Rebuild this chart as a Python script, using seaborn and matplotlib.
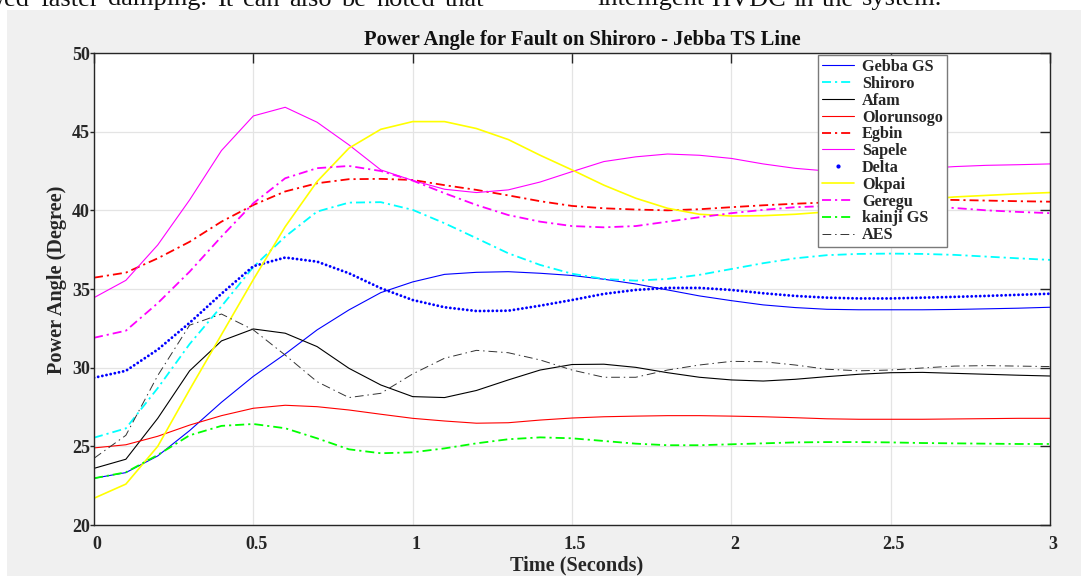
import numpy as np
import matplotlib
matplotlib.use("Agg")
import matplotlib.pyplot as plt
import matplotlib.transforms as mtransforms
from matplotlib.lines import Line2D
from matplotlib.patches import Rectangle
from matplotlib.ticker import FixedLocator
import seaborn as sns

# ---- data: rotor angle (degrees) of each station after the fault ----
time_s = np.round(np.arange(0, 3.01, 0.1), 1)

gebba = [22.97, 23.33, 24.39, 26.0, 27.8, 29.45, 30.87, 32.4, 33.67, 34.77, 35.45,
         35.93, 36.06, 36.1, 36.0, 35.86, 35.62, 35.32, 34.94, 34.56, 34.26,
         33.99, 33.82, 33.71, 33.68, 33.68, 33.68, 33.7, 33.74, 33.78, 33.84]
shiroro = [25.55, 26.14, 28.7, 31.5, 33.9, 36.4, 38.33, 39.92, 40.49, 40.52, 40.03,
           39.18, 38.23, 37.27, 36.53, 35.97, 35.64, 35.53, 35.64, 35.9, 36.27,
           36.64, 36.95, 37.15, 37.23, 37.25, 37.23, 37.17, 37.06, 36.95, 36.85]
afam = [23.6, 24.18, 26.78, 29.8, 31.7, 32.46, 32.19, 31.34, 29.96, 28.9, 28.16,
        28.1, 28.55, 29.22, 29.85, 30.2, 30.22, 30.02, 29.68, 29.39, 29.22,
        29.15, 29.26, 29.43, 29.58, 29.68, 29.7, 29.64, 29.58, 29.52, 29.47]
olorunsogo = [24.9, 25.1, 25.64, 26.35, 26.95, 27.42, 27.61, 27.52, 27.31, 27.04, 26.78,
              26.61, 26.47, 26.5, 26.67, 26.8, 26.88, 26.92, 26.95, 26.95, 26.92,
              26.88, 26.82, 26.75, 26.72, 26.72, 26.72, 26.74, 26.76, 26.78, 26.78]
egbin = [35.72, 36.04, 36.95, 38.0, 39.28, 40.34, 41.2, 41.72, 41.98, 42.0, 41.93,
         41.6, 41.3, 40.95, 40.58, 40.28, 40.13, 40.05, 40.0, 40.07, 40.2,
         40.32, 40.42, 40.5, 40.6, 40.65, 40.68, 40.66, 40.62, 40.58, 40.55]
sapele = [34.45, 35.55, 37.8, 40.66, 43.8, 46.0, 46.55, 45.6, 44.16, 42.57, 41.9,
          41.34, 41.13, 41.3, 41.8, 42.46, 43.1, 43.4, 43.58, 43.5, 43.3,
          42.95, 42.67, 42.5, 42.5, 42.55, 42.65, 42.78, 42.86, 42.9, 42.95]
delta = [29.36, 29.8, 31.15, 32.85, 34.7, 36.45, 37.0, 36.74, 36.0, 35.05, 34.3,
         33.84, 33.6, 33.62, 33.94, 34.3, 34.69, 34.94, 35.07, 35.07, 34.94,
         34.73, 34.56, 34.45, 34.4, 34.4, 34.45, 34.5, 34.56, 34.63, 34.7]
okpai = [21.7, 22.6, 25.0, 28.6, 32.1, 35.6, 38.96, 41.83, 43.95, 45.15, 45.64,
         45.64, 45.2, 44.5, 43.5, 42.57, 41.6, 40.77, 40.13, 39.75, 39.64,
         39.66, 39.75, 39.9, 40.15, 40.45, 40.68, 40.85, 40.95, 41.05, 41.13]
geregu = [31.9, 32.35, 34.1, 36.1, 38.33, 40.45, 42.04, 42.68, 42.82, 42.5, 41.89,
          41.09, 40.34, 39.7, 39.28, 39.0, 38.92, 39.0, 39.28, 39.56, 39.82,
          40.03, 40.2, 40.27, 40.3, 40.3, 40.25, 40.15, 40.0, 39.9, 39.82]
kainji = [22.97, 23.35, 24.45, 25.7, 26.3, 26.42, 26.15, 25.51, 24.81, 24.56, 24.62,
          24.87, 25.19, 25.45, 25.57, 25.51, 25.34, 25.17, 25.07, 25.07, 25.13,
          25.19, 25.25, 25.27, 25.27, 25.25, 25.21, 25.19, 25.17, 25.15, 25.15]
aes = [24.24, 25.7, 29.5, 32.7, 33.41, 32.4, 30.8, 29.11, 28.1, 28.37, 29.6,
       30.6, 31.1, 30.95, 30.49, 29.85, 29.39, 29.39, 29.85, 30.17, 30.4,
       30.38, 30.17, 29.9, 29.8, 29.85, 29.98, 30.1, 30.13, 30.1, 30.07]

station_names = ["Gebba GS", "Shiroro", "Afam", "Olorunsogo", "Egbin", "Sapele",
                 "Delta", "Okpai", "Geregu", "kainji GS", "AES"]
x_ticks = [0, 0.5, 1, 1.5, 2, 2.5, 3]
x_tick_labels = ["0", "0.5", "1", "1.5", "2", "2.5", "3"]
y_ticks = [20, 25, 30, 35, 40, 45, 50]

# ---- styling ----
sns.set_theme(style="white")
plt.rcParams["font.family"] = ["Liberation Serif", "DejaVu Serif"]
plt.rcParams["font.weight"] = "bold"

W, H = 1081, 576
fig = plt.figure(figsize=(W / 100, H / 100), dpi=100, facecolor="white")
fig.add_artist(Rectangle((7 / W, 0), 1 - 7 / W, 1 - 10 / H, transform=fig.transFigure,
                         facecolor="#f0f0f0", edgecolor="none", zorder=-10))
renderer = fig.canvas.get_renderer()


def justified_line(words, x_start, x_end, baseline_px, size):
    """Lay out words across [x_start, x_end] pixels with equal gaps."""
    texts = [fig.text(0, 1 - baseline_px / H, w, fontsize=size, fontweight="normal",
                      ha="left", va="baseline", color="#111111") for w in words]
    widths = [t.get_window_extent(renderer).width for t in texts]
    gap = (x_end - x_start - sum(widths)) / max(len(words) - 1, 1)
    x = x_start
    for t, w in zip(texts, widths):
        t.set_x(x / W)
        x += w + gap


# running text of the page above the figure
justified_line(["wed", "faster", "damping.", "It", "can", "also", "be", "noted", "that"],
               -14, 484, 5.5, 19)
justified_line(["intelligent", "HVDC", "in", "the", "system."], 597, 942, 5.5, 19)

ax = fig.add_axes([94 / W, 1 - 525 / H, (1050 - 94) / W, (525 - 53) / H])
ax.set_facecolor("white")

dashdot = (0, (5, 2.2, 1.2, 2.2))
dotted = (0, (0.01, 1.45))
series = [
    (gebba, dict(color="#0000ff", linewidth=0.8, linestyle="-")),
    (shiroro, dict(color="#00ffff", linewidth=1.3, linestyle=dashdot)),
    (afam, dict(color="#000000", linewidth=0.8, linestyle="-")),
    (olorunsogo, dict(color="#ff0000", linewidth=0.8, linestyle="-")),
    (egbin, dict(color="#ff0000", linewidth=1.3, linestyle=dashdot)),
    (sapele, dict(color="#ff00ff", linewidth=0.8, linestyle="-")),
    (delta, dict(color="#0000ff", linewidth=2.1, linestyle=dotted,
                 dash_capstyle="round")),
    (okpai, dict(color="#ffff00", linewidth=1.2, linestyle="-")),
    (geregu, dict(color="#ff00ff", linewidth=1.3, linestyle=dashdot)),
    (kainji, dict(color="#00ff00", linewidth=1.3, linestyle=dashdot)),
    (aes, dict(color="#333333", linewidth=0.7, linestyle=(0, (9, 4, 1.5, 4)))),
]
for values, style in series:
    sns.lineplot(x=time_s, y=values, ax=ax, legend=False, **style)

ax.set_xlim(0, 3)
ax.set_ylim(20, 50)
ax.set_xticks(x_ticks)
ax.set_xticklabels(x_tick_labels)
ax.set_yticks(y_ticks)
ax.grid(True, color="#e4e4e4", linewidth=0.9)
ax.set_axisbelow(True)
for side in ["left", "right", "top", "bottom"]:
    ax.spines[side].set_visible(True)
    ax.spines[side].set_color("#262626")
    ax.spines[side].set_linewidth(1.0)

ax.tick_params(axis="both", which="major", direction="in", length=7.2, width=1.0,
               color="#262626", top=True, right=True, labelsize=13,
               labelcolor="#262626")
ax.tick_params(axis="x", which="major", pad=8)
ax.tick_params(axis="y", which="major", pad=3)
# short outward stubs on the left side
ax.yaxis.set_minor_locator(FixedLocator(y_ticks))
ax.yaxis.remove_overlapping_locs = False
ax.tick_params(axis="y", which="minor", direction="out", length=3.2, width=1.0,
               color="#262626", left=True, right=False)
for lbl in ax.get_xticklabels():
    lbl.set_transform(lbl.get_transform()
                      + mtransforms.ScaledTranslation(3 / 100, 0, fig.dpi_scale_trans))
    lbl.set_fontweight("bold")
for lbl in ax.get_yticklabels():
    lbl.set_fontweight("bold")

ax.set_xlabel("Time (Seconds)", fontsize=14.6, fontweight="bold", color="#262626")
ax.set_ylabel("Power Angle (Degree)", fontsize=14.6, fontweight="bold", color="#262626")
ax.xaxis.set_label_coords((577 - 94) / 956, -(555 - 525) / 472)
ax.yaxis.set_label_coords(-(94 - 67) / 956, (525 - 280) / 472)

fig.text(582 / W, 1 - 45 / H, "Power Angle for Fault on Shiroro - Jebba TS Line",
         fontsize=14.8, fontweight="bold", ha="center", va="baseline", color="#111111")

# legend: the dotted series is shown as a single marker
handles = []
for values, style in series:
    if style["linestyle"] == dotted:
        handles.append(Line2D([], [], color="#0000ff", marker=".", markersize=4,
                              linestyle="None"))
    else:
        handles.append(Line2D([], [], color=style["color"], linewidth=style["linewidth"],
                              linestyle=style["linestyle"]))
leg = ax.legend(handles, station_names, loc="upper left",
                bbox_to_anchor=((818 - 94) / 956, (525 - 55) / 472), borderaxespad=0,
                frameon=True, fancybox=False, framealpha=1, edgecolor="#7a7a7a",
                prop={"family": ["Liberation Serif"], "weight": "bold", "size": 11.7},
                handlelength=1.97, handletextpad=0.49, labelspacing=0.05,
                borderpad=0.25)
leg.get_frame().set_linewidth(1.0)

fig.savefig("out.png", dpi=100, facecolor=fig.get_facecolor())
